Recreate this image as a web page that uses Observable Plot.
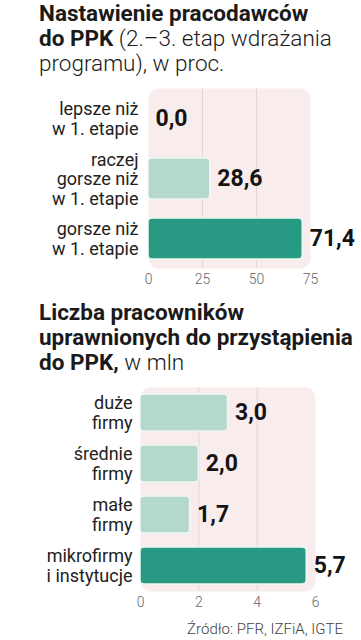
<!DOCTYPE html>
<html><head><meta charset="utf-8">
<script src="https://cdn.jsdelivr.net/npm/d3@7"></script>
<script src="https://cdn.jsdelivr.net/npm/@observablehq/plot@0.6"></script>
<style>
body{margin:0;background:#fff;width:361px;height:640px;position:relative;overflow:hidden;font-family:Roboto,sans-serif;color:#1a1a1a}
.t{position:absolute;left:39px;font-size:22.5px;line-height:25px;font-weight:300;white-space:nowrap}
.t b{font-weight:700}
#c1{position:absolute;left:0;top:80px}
#c2{position:absolute;left:0;top:380px}
.src{position:absolute;right:18px;top:620px;font-size:15px;color:#444;font-weight:300}
svg{overflow:visible}
</style></head><body>
<div class="t" style="top:1px"><b>Nastawienie pracodawców</b><br><b>do PPK</b> (2.–3. etap wdrażania<br>programu), w proc.</div>
<div id="c1"></div>
<div class="t" style="top:300px"><b>Liczba pracowników<br>uprawnionych do przystąpienia<br>do PPK,</b> w mln</div>
<div id="c2"></div>
<div class="src">Źródło: PFR, IZFiA, IGTE</div>
<script>
const cats1 = ["lepsze niż\nw 1. etapie", "raczej\ngorsze niż\nw 1. etapie", "gorsze niż\nw 1. etapie"];
const vals1 = [0.0, 28.6, 71.4];
const ticks1 = [0, 25, 50, 75];
const grid1 = [25, 50];

const cats2 = ["duże\nfirmy", "średnie\nfirmy", "małe\nfirmy", "mikrofirmy\ni instytucje"];
const vals2 = [3.0, 2.0, 1.7, 5.7];
const ticks2 = [0, 2, 4, 6];
const grid2 = [2, 4];

const LIGHT = "#b4d8cb", DARK = "#289a83", PANEL = "#f8eced", GRID = "#e6d6d7";
const fmt = v => d3.format(".1f")(v).replace(".", ",");

function chart(cats, vals, ticks, grid, o) {
  const data = cats.map((c, i) => ({c, v: vals[i], k: i === cats.length - 1 ? "h" : "n"}));
  return Plot.plot({
    width: 361, height: o.height,
    marginLeft: o.mL, marginRight: o.mR, marginTop: o.mT, marginBottom: o.mB,
    x: {domain: [ticks[0], ticks[ticks.length - 1]], axis: null, label: null},
    y: {domain: cats, paddingInner: o.pi, paddingOuter: o.pi / 2, axis: null, label: null},
    color: {domain: ["n", "h"], range: [LIGHT, DARK]},
    style: {background: "transparent", overflow: "visible"},
    marks: [
      Plot.frame({fill: PANEL, rx: 10, stroke: null}),
      Plot.gridX(grid, {stroke: GRID, strokeOpacity: 1, strokeWidth: 1}),
      Plot.barX(data.filter(d => d.v > 0), {x: "v", y: "c", fill: "k", stroke: "#eef8f4", strokeWidth: 1.5, rx: 4}),
      Plot.text(data, {x: "v", y: "c", text: d => fmt(d.v), dx: 7, textAnchor: "start", fontSize: 23, fontWeight: "bold", fontFamily: "Roboto, sans-serif", fill: "#141414"}),
      Plot.text(data, {x: 0, y: "c", text: "c", textAnchor: "end", dx: o.labDx, fontSize: 18, lineHeight: 1.1, fontFamily: "Roboto, sans-serif", fill: "#222"}),
      Plot.axisX(ticks, {tickSize: 0, tickPadding: 6, fontSize: 14, fontFamily: "Roboto, sans-serif", fontWeight: 300, fill: "#666", label: null, tickFormat: d => String(d)})
    ]
  });
}

document.getElementById("c1").append(chart(cats1, vals1, ticks1, grid1, {height: 215, mL: 148, mR: 51, mT: 8, mB: 27, pi: 0.32, labDx: -10}));
document.getElementById("c2").append(chart(cats2, vals2, ticks2, grid2, {height: 232, mL: 140, mR: 46, mT: 7, mB: 21, pi: 0.27, labDx: -8}));
</script>
</body></html>
